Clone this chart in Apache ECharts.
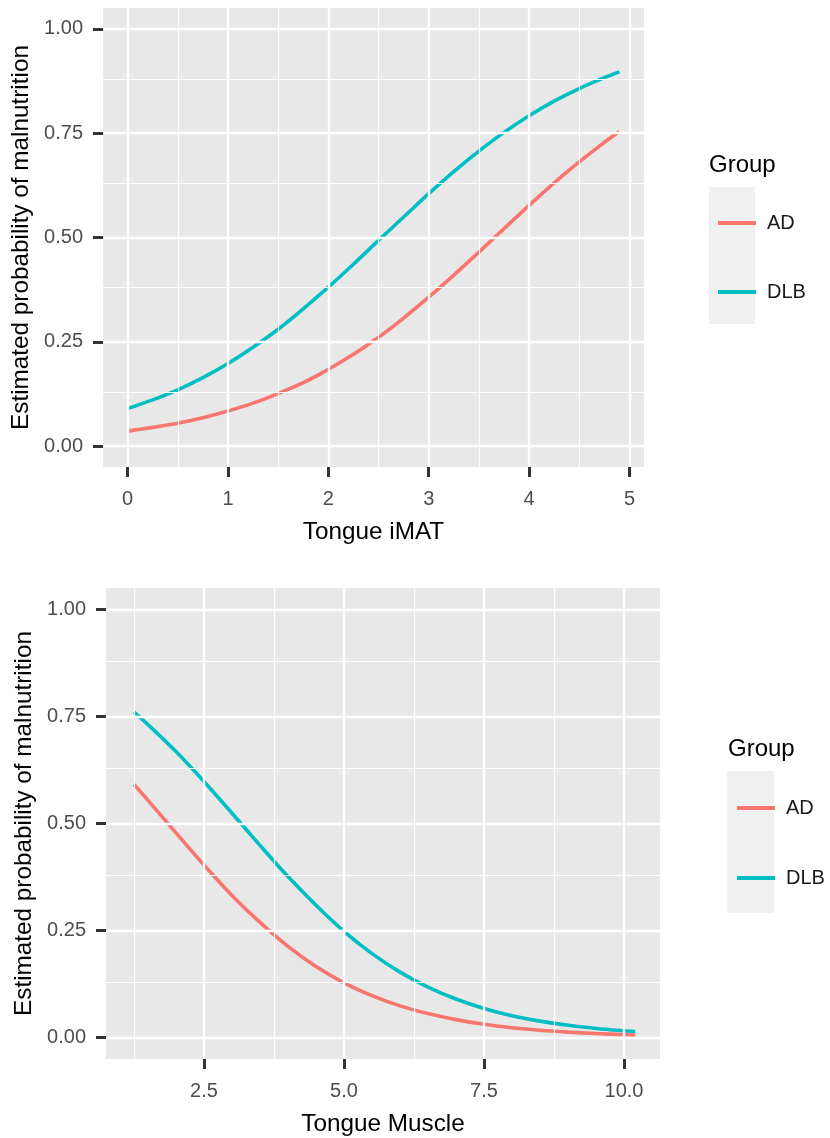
<!DOCTYPE html>
<html>
<head>
<meta charset="utf-8">
<script src="https://cdn.jsdelivr.net/npm/echarts@6/dist/echarts.min.js"></script>
<style>
  html, body { margin: 0; padding: 0; background: #ffffff; }
  #chart { width: 830px; height: 1138px; }
</style>
</head>
<body>
<div id="chart"></div>
<script>
// Estimated probability of malnutrition by tongue iMAT and tongue muscle, per group
const groups = ['AD', 'DLB'];
const groupColors = ['#F8766D', '#00BFC4'];

const imatX = [0, 0.25, 0.5, 0.75, 1, 1.25, 1.5, 1.75, 2, 2.25, 2.5, 2.75, 3, 3.25, 3.5, 3.75, 4, 4.25, 4.5, 4.75, 4.9];
const imatAD = [0.036, 0.045, 0.055, 0.068, 0.084, 0.103, 0.126, 0.152, 0.184, 0.220, 0.261, 0.307, 0.357, 0.410, 0.465, 0.521, 0.577, 0.631, 0.681, 0.728, 0.754];
const imatDLB = [0.090, 0.111, 0.135, 0.164, 0.198, 0.237, 0.280, 0.329, 0.381, 0.436, 0.493, 0.549, 0.605, 0.658, 0.707, 0.752, 0.792, 0.827, 0.857, 0.883, 0.897];

const muscleX = [1.25, 1.5, 2, 2.5, 3, 3.5, 4, 4.5, 5, 5.5, 6, 6.5, 7, 7.5, 8, 8.5, 9, 9.5, 10, 10.2];
const muscleAD = [0.591, 0.554, 0.478, 0.403, 0.332, 0.269, 0.213, 0.166, 0.128, 0.098, 0.074, 0.056, 0.042, 0.031, 0.023, 0.017, 0.0127, 0.0094, 0.0070, 0.0062];
const muscleDLB = [0.760, 0.731, 0.668, 0.598, 0.524, 0.449, 0.376, 0.309, 0.248, 0.196, 0.153, 0.118, 0.090, 0.068, 0.051, 0.0385, 0.0287, 0.0214, 0.0159, 0.0141];

const probTicks = [0, 0.25, 0.5, 0.75, 1];
const probMinor = [0.125, 0.375, 0.625, 0.875];
const imatTicks = [0, 1, 2, 3, 4, 5];
const imatMinor = [0.5, 1.5, 2.5, 3.5, 4.5];
const muscleTicks = [2.5, 5, 7.5, 10];
const muscleMinor = [1.25, 3.75, 6.25, 8.75];

const FONT = '"Liberation Sans", Arial, Helvetica, sans-serif';
const MAJOR_W = 2.4;
const MINOR_W = 1.2;

function pairs(xs, ys) { return xs.map((x, i) => [x, ys[i]]); }

function gridLines(xMajor, xMinor, yMajor, yMinor) {
  const d = [];
  yMinor.forEach(v => d.push({ yAxis: v, lineStyle: { width: MINOR_W } }));
  xMinor.forEach(v => d.push({ xAxis: v, lineStyle: { width: MINOR_W } }));
  yMajor.forEach(v => d.push({ yAxis: v, lineStyle: { width: MAJOR_W } }));
  xMajor.forEach(v => d.push({ xAxis: v, lineStyle: { width: MAJOR_W } }));
  return d;
}

function panelGridSeries(idx, xMajor, xMinor) {
  return {
    type: 'line', name: '_grid' + idx, xAxisIndex: idx, yAxisIndex: idx,
    data: [], z: 1, silent: true,
    markLine: {
      silent: true, symbol: ['none', 'none'], label: { show: false },
      lineStyle: { color: '#ffffff', type: 'solid' },
      emphasis: { disabled: true },
      data: gridLines(xMajor, xMinor, probTicks, probMinor)
    }
  };
}

function curve(idx, name, xs, ys, color) {
  return {
    type: 'line', name: name, xAxisIndex: idx, yAxisIndex: idx,
    data: pairs(xs, ys), smooth: 0.3, showSymbol: false, symbol: 'none',
    color: color, z: 3,
    lineStyle: { color: color, width: 3.6 }
  };
}

const tickStyle = { color: '#333333', width: 3 };

function yAxisDef(idx) {
  return {
    type: 'value', gridIndex: idx, min: -0.05, max: 1.05,
    name: 'Estimated probability of malnutrition', nameLocation: 'middle', nameGap: 66,
    nameTextStyle: { fontFamily: FONT, fontSize: 24.3, color: '#000000' },
    axisLine: { show: false, onZero: false },
    axisTick: { show: true, customValues: probTicks, length: 10, lineStyle: tickStyle },
    axisLabel: { customValues: probTicks, margin: 20, fontFamily: FONT, fontSize: 20, color: '#4d4d4d',
      formatter: v => v.toFixed(2) },
    splitLine: { show: false }
  };
}

function xAxisDef(idx, min, max, ticks, name, digits) {
  return {
    type: 'value', gridIndex: idx, min: min, max: max,
    name: name, nameLocation: 'middle', nameGap: 53,
    nameTextStyle: { fontFamily: FONT, fontSize: 24.3, color: '#000000' },
    axisLine: { show: false, onZero: false },
    axisTick: { show: true, customValues: ticks, length: 10, lineStyle: tickStyle },
    axisLabel: { customValues: ticks, margin: 22, fontFamily: FONT, fontSize: 20, color: '#4d4d4d',
      formatter: v => v.toFixed(digits) },
    splitLine: { show: false }
  };
}

function legendDef(left, top, gap) {
  return {
    orient: 'vertical', left: left, top: top, data: groups,
    icon: 'rect', itemWidth: 38, itemHeight: 4, itemGap: gap, selectedMode: false,
    textStyle: { fontFamily: FONT, fontSize: 20, color: '#1a1a1a', lineHeight: 20, padding: [0, 0, 0, 6] }
  };
}

const chart = echarts.init(document.getElementById('chart'), null, { renderer: 'canvas' });
chart.setOption({
  animation: false,
  backgroundColor: '#ffffff',
  grid: [
    { left: 103, top: 8, width: 541, height: 459, show: true, backgroundColor: '#e8e8e8', borderWidth: 0 },
    { left: 106, top: 588, width: 554, height: 471, show: true, backgroundColor: '#e8e8e8', borderWidth: 0 }
  ],
  xAxis: [
    xAxisDef(0, -0.245, 5.145, imatTicks, 'Tongue iMAT', 0),
    xAxisDef(1, 0.75, 10.643, muscleTicks, 'Tongue Muscle', 1)
  ],
  yAxis: [yAxisDef(0), yAxisDef(1)],
  legend: [legendDef(713, 208, 49), legendDef(732, 793, 50)],
  graphic: [
    { type: 'text', left: 709, top: 153, style: { text: 'Group', font: '24px ' + FONT, fill: '#000000' } },
    { type: 'rect', shape: { x: 709, y: 187, width: 46, height: 137 }, style: { fill: '#f0f0f0' } },
    { type: 'text', left: 728, top: 737, style: { text: 'Group', font: '24px ' + FONT, fill: '#000000' } },
    { type: 'rect', shape: { x: 727, y: 771, width: 47, height: 142 }, style: { fill: '#f0f0f0' } }
  ],
  series: [
    panelGridSeries(0, imatTicks, imatMinor),
    panelGridSeries(1, muscleTicks, muscleMinor),
    curve(0, groups[0], imatX, imatAD, groupColors[0]),
    curve(0, groups[1], imatX, imatDLB, groupColors[1]),
    curve(1, groups[0], muscleX, muscleAD, groupColors[0]),
    curve(1, groups[1], muscleX, muscleDLB, groupColors[1])
  ]
});
</script>
</body>
</html>
